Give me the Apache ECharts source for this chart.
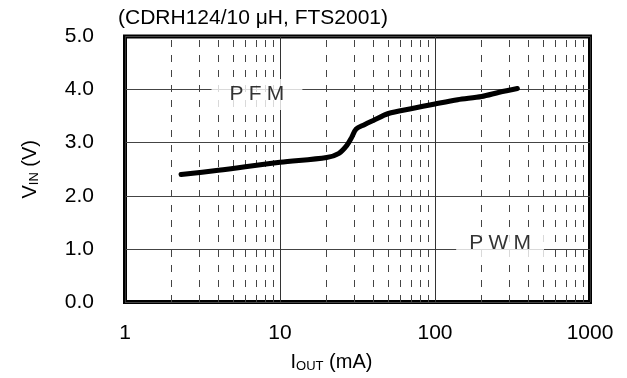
<!DOCTYPE html>
<html><head><meta charset="utf-8">
<script src="https://cdn.jsdelivr.net/npm/echarts@6/dist/echarts.min.js"></script>
<style>html,body{margin:0;padding:0;background:#fff}#c{width:627px;height:378px}</style>
</head><body><div id="c"></div>
<script>
var currentMA = [2.3, 4, 10, 20, 24, 27, 29, 31, 35, 40, 50, 70, 100, 140, 200, 260, 340];
var vinV = [2.40, 2.48, 2.63, 2.72, 2.80, 2.95, 3.10, 3.26, 3.34, 3.42, 3.55, 3.64, 3.73, 3.81, 3.87, 3.95, 4.02];
var yTicks = [0, 1, 2, 3, 4, 5];
var xTicks = [1, 10, 100, 1000];
var minorGridX = [2,3,4,5,6,7,8,9,20,30,40,50,60,70,80,90,200,300,400,500,600,700,800,900];
var regionNames = ['PFM', 'PWM'];
var regionX = [7.1, 263];
var regionY = [4.0, 1.0];
var titleText = '(CDRH124/10 \u03bcH, FTS2001)';

var FONT = "Arial, 'Liberation Sans', sans-serif";
// label box styling (not data)
var regionLabelStyle = [
  {offset: [0, 5], padding: [6, 18, 4, 18]},
  {offset: [0, -6], padding: [4, 13, 6, 13]}
];
var chart = echarts.init(document.getElementById('c'), null, {renderer: 'canvas'});
var curve = currentMA.map(function (x, i) { return [x, vinV[i]]; });
var regions = regionNames.map(function (n, i) {
  return {name: n, value: [regionX[i], regionY[i]], label: regionLabelStyle[i]};
});

chart.setOption({
  animation: false,
  backgroundColor: '#fff',
  title: {
    text: titleText, left: 113, top: 3,
    textStyle: {fontFamily: FONT, fontSize: 21, fontWeight: 'normal', color: '#000'}
  },
  grid: {left: 125, right: 37, top: 36.5, bottom: 71.5, show: true, borderColor: '#000', borderWidth: 4, backgroundColor: 'transparent'},
  xAxis: {
    type: 'log', logBase: 10, min: xTicks[0], max: xTicks[xTicks.length - 1],
    axisLine: {show: false}, axisTick: {show: false},
    axisLabel: {fontFamily: FONT, fontSize: 21, color: '#000', margin: 21, formatter: function (v) { return String(Math.round(v)); }},
    splitLine: {show: true, lineStyle: {color: '#333', width: 1}},
    name: '{a|I}{s|OUT}{a| (mA)}', nameLocation: 'middle', nameGap: 50,
    nameTextStyle: {padding: [0, 52, 0, 0], rich: {
      a: {fontFamily: FONT, fontSize: 20, color: '#000'},
      s: {fontFamily: FONT, fontSize: 13, color: '#000', padding: [8, 0, 0, 0]}
    }}
  },
  yAxis: {
    type: 'value', min: yTicks[0], max: yTicks[yTicks.length - 1], interval: 1,
    axisLine: {show: false}, axisTick: {show: false},
    axisLabel: {fontFamily: FONT, fontSize: 21, color: '#000', margin: 31, formatter: function (v) { return v.toFixed(1); }},
    splitLine: {show: true, lineStyle: {color: '#444', width: 1}},
    name: '{a|V}{s|IN}{a| (V)}', nameLocation: 'middle', nameGap: 84, nameRotate: 90,
    nameTextStyle: {rich: {
      a: {fontFamily: FONT, fontSize: 20, color: '#000'},
      s: {fontFamily: FONT, fontSize: 13, color: '#000', padding: [8, 0, 0, 0]}
    }}
  },
  series: [
    {
      type: 'line', data: [], z: 1, silent: true,
      markLine: {
        z: 1, silent: true, symbol: ['none', 'none'], animation: false,
        label: {show: false},
        lineStyle: {type: [7, 8], color: '#444', width: 1},
        emphasis: {disabled: true},
        data: minorGridX.map(function (v) { return {xAxis: v}; })
      }
    },
    {
      type: 'scatter', data: regions, symbolSize: 0, z: 10, silent: true,
      label: {
        show: true, position: 'inside', formatter: function (p) { return p.name.split('').join('\u2005'); },
        fontFamily: FONT, fontSize: 21, color: '#000', backgroundColor: '#fff'
      }
    },
    {
      type: 'line', data: curve, z: 11, smooth: 0.3, symbol: 'none', silent: true,
      lineStyle: {color: '#000', width: 5, cap: 'round', join: 'round'}
    }
  ]
});
</script></body></html>
